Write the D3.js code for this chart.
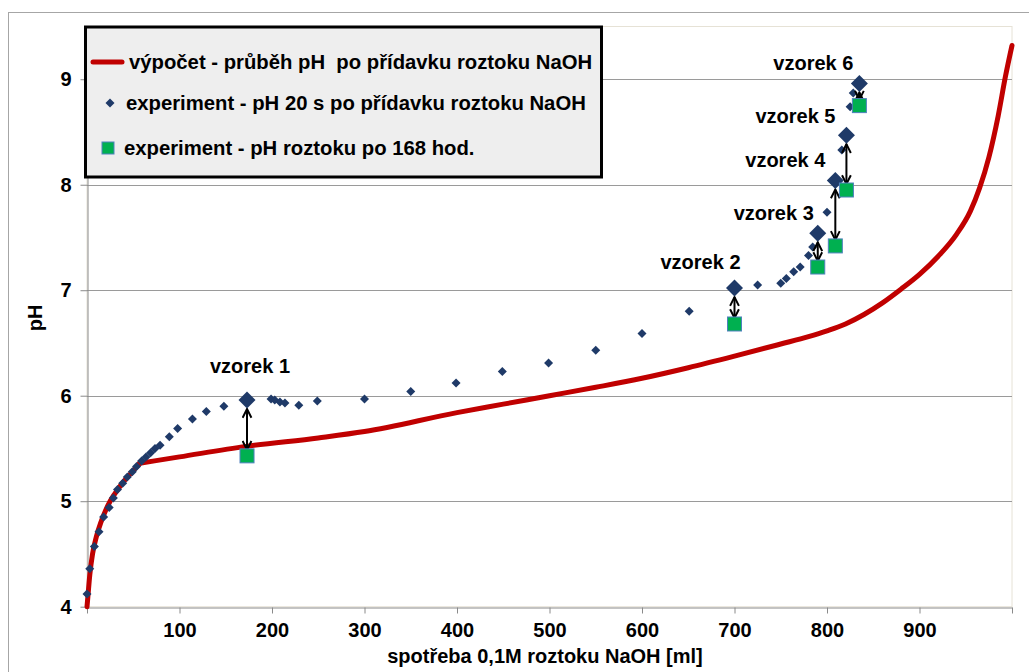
<!DOCTYPE html>
<html>
<head>
<meta charset="utf-8">
<script src="https://cdn.jsdelivr.net/npm/d3@7"></script>
<style>
  html, body { margin: 0; padding: 0; background: #ffffff; }
  svg { display: block; }
  text { font-family: "Liberation Sans", Arial, sans-serif; font-weight: bold; fill: #000; }
</style>
</head>
<body>
<svg id="chart" width="1029" height="672"></svg>
<script>
// ---------- data ----------
const calcX  = [0, 1, 3, 6, 10, 15, 20, 25, 30, 40, 50, 57, 100, 172, 250, 300, 400, 450, 500, 550, 600, 650, 700, 750, 780, 800, 820, 840, 860, 880, 900, 920, 940, 955, 965, 975, 985, 993, 1000];
const calcPH = [4.0, 4.1, 4.3, 4.5, 4.66, 4.8, 4.91, 5.0, 5.07, 5.19, 5.29, 5.36, 5.42, 5.52, 5.6, 5.66, 5.84, 5.92, 6.0, 6.08, 6.165, 6.265, 6.375, 6.49, 6.56, 6.615, 6.68, 6.77, 6.88, 7.01, 7.15, 7.32, 7.53, 7.75, 7.97, 8.26, 8.65, 9.03, 9.32];

const expX  = [0, 3, 8, 13, 18, 24, 28.5, 33, 38.6, 43.6, 49, 53.6, 59, 63.8, 68.8, 73.5, 79, 89, 98, 114, 129, 148, 199, 203, 208.6, 214, 229, 249, 300, 350, 399, 449, 499, 550, 600, 651, 725, 750, 756, 764, 771, 780, 784.5, 800, 816, 825, 828.4];
const expPH = [4.12, 4.36, 4.57, 4.71, 4.85, 4.94, 5.03, 5.11, 5.17, 5.23, 5.28, 5.33, 5.38, 5.42, 5.46, 5.5, 5.53, 5.61, 5.69, 5.78, 5.85, 5.9, 5.97, 5.96, 5.94, 5.93, 5.91, 5.95, 5.97, 6.04, 6.12, 6.23, 6.31, 6.43, 6.59, 6.8, 7.05, 7.065, 7.11, 7.175, 7.22, 7.33, 7.41, 7.74, 8.33, 8.74, 8.87];

const sampleLabels = ["vzorek 1", "vzorek 2", "vzorek 3", "vzorek 4", "vzorek 5", "vzorek 6"];
const sampleX      = [173, 700, 790, 809, 821, 835];
const sample20sPH  = [5.96, 7.02, 7.54, 8.04, 8.47, 8.96];
const sample168PH  = [5.43, 6.68, 7.22, 7.42, 7.95, 8.75];

const xTicks = [0, 100, 200, 300, 400, 500, 600, 700, 800, 900, 1000];
const yTicks = [4, 5, 6, 7, 8, 9];

const legendLabels = [
  "výpočet - průběh pH\u00a0 po přídavku roztoku NaOH",
  "experiment - pH 20 s po přídavku roztoku NaOH",
  "experiment - pH roztoku po 168 hod."
];
const xTitle = "spotřeba 0,1M roztoku NaOH [ml]";
const yTitle = "pH";

// ---------- layout (pixel offsets for sample labels) ----------
const labelOffsets = [[3, -27], [-34, -19], [-44, -13], [-50, -14], [-51, -12], [-46, -13]];
const kinkIndex = 11; // the calculated curve has a corner at this point

// ---------- drawing ----------
const svg = d3.select("#chart");
const x = d3.scaleLinear().domain([0, 1000]).range([87, 1012]);
const y = d3.scaleLinear().domain([4, 9.5]).range([606.7, 26.5]);

const navy = "#1f3a68", red = "#c00000", green = "#00b050";

// outer chart frame
svg.append("rect").attr("x", 8.5).attr("y", 12.5).attr("width", 1040).attr("height", 680)
  .attr("fill", "#fff").attr("stroke", "#a6a6a6").attr("stroke-width", 1);

// plot area border
svg.append("rect").attr("x", x(0)).attr("y", y(9.5)).attr("width", x(1000) - x(0)).attr("height", y(4) - y(9.5))
  .attr("fill", "none").attr("stroke", "#e6e2d6").attr("stroke-width", 1);

// gridlines
svg.append("g").selectAll("line").data(yTicks.slice(1)).join("line")
  .attr("x1", x(0)).attr("x2", x(1000))
  .attr("y1", d => Math.round(y(d)) + 0.5).attr("y2", d => Math.round(y(d)) + 0.5)
  .attr("stroke", "#9a9a9a").attr("stroke-width", 1);

// axes
const xAxis = svg.append("g").attr("transform", `translate(0,${Math.round(y(4)) + 0.5})`)
  .call(d3.axisBottom(x).tickValues(xTicks).tickSize(6).tickSizeOuter(0).tickPadding(9)
    .tickFormat(d => (d === 0 || d === 1000) ? "" : d));
const yAxis = svg.append("g").attr("transform", `translate(${Math.round(x(0)) + 0.5},0)`)
  .call(d3.axisLeft(y).tickValues(yTicks).tickSize(7).tickSizeOuter(0).tickPadding(9).tickFormat(d3.format("d")));
[xAxis, yAxis].forEach(g => {
  g.select(".domain").attr("stroke", "#8a8a8a");
  g.selectAll(".tick line").attr("stroke", "#8a8a8a");
  g.selectAll(".tick text").attr("font-size", 20).attr("font-family", "Liberation Sans, Arial, sans-serif")
    .attr("font-weight", "bold").attr("fill", "#000");
});

// axis titles
svg.append("text").attr("x", 545).attr("y", 663).attr("text-anchor", "middle").attr("font-size", 20)
  .text(xTitle);
svg.append("text").attr("transform", "translate(42,318) rotate(-90)").attr("text-anchor", "middle")
  .attr("font-size", 20).text(yTitle);

// calculated curve (two smooth pieces joined at the corner)
const calcPts = d3.zip(calcX, calcPH);
const line = d3.line().x(d => x(d[0])).y(d => y(d[1])).curve(d3.curveMonotoneX);
const pieces = [calcPts.slice(0, kinkIndex + 1), calcPts.slice(kinkIndex)];
svg.append("g").selectAll("path").data(pieces).join("path").attr("d", line)
  .attr("fill", "none").attr("stroke", red).attr("stroke-width", 5)
  .attr("stroke-linejoin", "round").attr("stroke-linecap", "round");

// experiment (20 s) small diamonds
const diamond = (cx, cy, r) => `M${cx},${cy - r}L${cx + r},${cy}L${cx},${cy + r}L${cx - r},${cy}Z`;
svg.append("g").selectAll("path").data(d3.zip(expX, expPH)).join("path")
  .attr("d", d => diamond(x(d[0]), y(d[1]), 4.5)).attr("fill", navy);

// arrows
const defs = svg.append("defs");
defs.append("marker").attr("id", "head").attr("viewBox", "0 0 10 10").attr("refX", 9).attr("refY", 5)
  .attr("markerWidth", 11).attr("markerHeight", 11).attr("markerUnits", "userSpaceOnUse")
  .attr("orient", "auto-start-reverse")
  .append("path").attr("d", "M1,1L9,5L1,9").attr("fill", "none").attr("stroke", "#000").attr("stroke-width", 1.8);

const samples = d3.range(sampleX.length).map(i => ({
  label: sampleLabels[i], x: sampleX[i], p20: sample20sPH[i], p168: sample168PH[i], off: labelOffsets[i]
}));

svg.append("g").selectAll("line").data(samples).join("line")
  .attr("x1", d => x(d.x)).attr("x2", d => x(d.x))
  .attr("y1", d => y(d.p20) + 9).attr("y2", d => y(d.p168) - 6)
  .attr("stroke", "#000").attr("stroke-width", 2)
  .attr("marker-start", "url(#head)").attr("marker-end", "url(#head)");

// big sample diamonds
svg.append("g").selectAll("path").data(samples).join("path")
  .attr("d", d => diamond(x(d.x), y(d.p20), 8.5)).attr("fill", navy);

// 168 h squares
svg.append("g").selectAll("rect").data(samples).join("rect")
  .attr("x", d => x(d.x) - 7).attr("y", d => y(d.p168) - 7).attr("width", 14).attr("height", 14)
  .attr("fill", green).attr("stroke", "#4f81bd").attr("stroke-width", 1);

// sample labels
svg.append("g").selectAll("text").data(samples).join("text")
  .attr("x", d => x(d.x) + d.off[0]).attr("y", d => y(d.p20) + d.off[1])
  .attr("text-anchor", "middle").attr("font-size", 20).text(d => d.label);

// legend
const lg = svg.append("g");
lg.append("rect").attr("x", 85.5).attr("y", 27).attr("width", 516).attr("height", 150)
  .attr("fill", "#eeeeee").attr("stroke", "#000").attr("stroke-width", 3);
lg.append("line").attr("x1", 93).attr("x2", 122).attr("y1", 62).attr("y2", 62)
  .attr("stroke", red).attr("stroke-width", 5).attr("stroke-linecap", "round");
lg.append("path").attr("d", diamond(110, 103, 4.5)).attr("fill", navy);
lg.append("rect").attr("x", 102).attr("y", 142).attr("width", 12).attr("height", 12)
  .attr("fill", green).attr("stroke", "#4f81bd").attr("stroke-width", 1);
const legX = [129, 126, 124], legY = [69, 110, 155];
lg.selectAll("text.leg").data(legendLabels).join("text").attr("class", "leg")
  .attr("x", (d, i) => legX[i]).attr("y", (d, i) => legY[i]).attr("font-size", 20.3).text(d => d);
</script>
</body>
</html>
